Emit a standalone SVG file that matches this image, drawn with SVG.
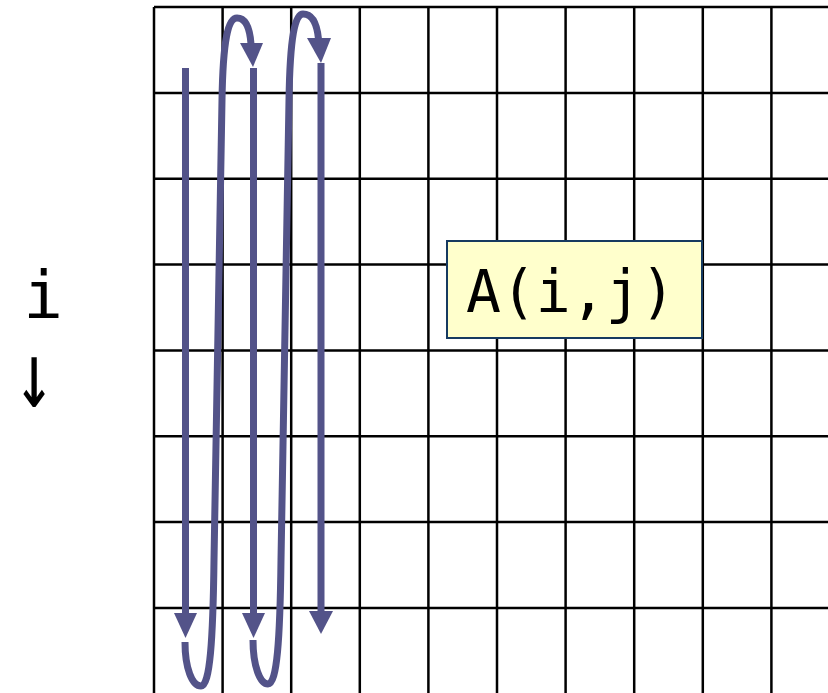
<svg xmlns="http://www.w3.org/2000/svg" width="828" height="693" viewBox="0 0 828 693">
<style>
.grid line{stroke:#000;stroke-width:2.5}
.flow{fill:none;stroke:#535389;stroke-width:7}
.head{fill:#535389}
.mono{font-family:"DejaVu Sans Mono","Liberation Mono",monospace;font-size:58px;fill:#000}
.side{font-family:"DejaVu Sans Mono","Liberation Mono",monospace;font-size:66px;fill:#000}
</style>
<rect width="828" height="693" fill="#fff"/>
<g class="grid" id="grid">
<line x1="154" y1="7" x2="828" y2="7"/>
<line x1="154" y1="92.9" x2="828" y2="92.9"/>
<line x1="154" y1="178.7" x2="828" y2="178.7"/>
<line x1="154" y1="264.6" x2="828" y2="264.6"/>
<line x1="154" y1="350.4" x2="828" y2="350.4"/>
<line x1="154" y1="436.3" x2="828" y2="436.3"/>
<line x1="154" y1="522.1" x2="828" y2="522.1"/>
<line x1="154" y1="608" x2="828" y2="608"/>
<line x1="154" y1="7" x2="154" y2="693"/>
<line x1="222.6" y1="7" x2="222.6" y2="693"/>
<line x1="291.2" y1="7" x2="291.2" y2="693"/>
<line x1="359.8" y1="7" x2="359.8" y2="693"/>
<line x1="428.4" y1="7" x2="428.4" y2="693"/>
<line x1="497" y1="7" x2="497" y2="693"/>
<line x1="565.6" y1="7" x2="565.6" y2="693"/>
<line x1="634.2" y1="7" x2="634.2" y2="693"/>
<line x1="702.8" y1="7" x2="702.8" y2="693"/>
<line x1="771.4" y1="7" x2="771.4" y2="693"/>
</g>
<g id="connectors">
<line class="flow" x1="185.5" y1="68" x2="185.5" y2="615"/>
<polygon class="head" points="174,613 197,613 185.5,638"/>
<line class="flow" x1="253.5" y1="68" x2="253.5" y2="615"/>
<polygon class="head" points="242,613 265,613 253.5,638"/>
<line class="flow" x1="321" y1="63" x2="321" y2="613"/>
<polygon class="head" points="309,611 333,611 321,634"/>
<path class="flow" d="M185,642 C185,668 192,686 201,686 C210,686 213,640 214,560 L222,100 C223,40 228,18 237,18 C246,18 250,30 251,44"/>
<polygon class="head" points="240,43 263,43 253,67"/>
<path class="flow" d="M253,640 C253,666 260,684 268,684 C277,684 280,640 281,560 L289,100 C290,36 295,14 303,14 C312,14 317,24 318.5,39"/>
<polygon class="head" points="307,38 331,38 321,63"/>
</g>
<g id="label-box">
<rect x="447" y="241" width="255" height="97" fill="#ffffcc" stroke="#163a60" stroke-width="2"/>
<text class="mono" x="466" y="312">A(i,j)</text>
</g>
<g id="axis-label">
<text class="side" x="43" y="318" text-anchor="middle">i</text>
<text class="side" x="0" y="0" text-anchor="middle" font-size="82" transform="translate(34,407) scale(1,1.4)">↓</text>
</g>
</svg>
